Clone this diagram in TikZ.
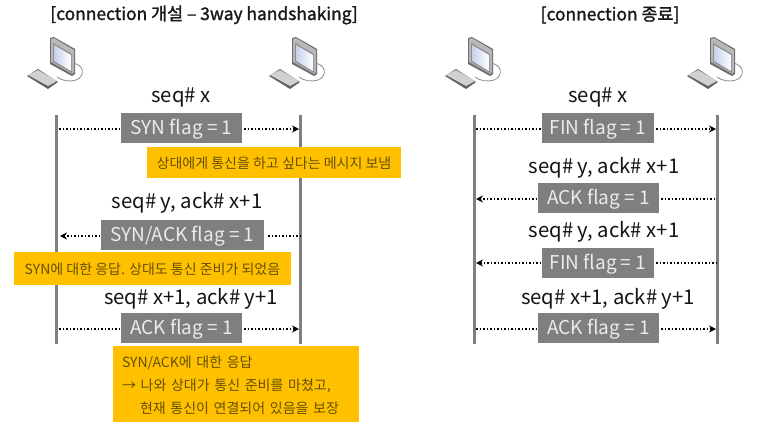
\documentclass[tikz,border=0pt]{standalone}
\usepackage{fontspec}
\setmainfont{Noto Sans CJK KR}
\newfontfamily\titlefont[FakeBold=1.5]{Noto Sans CJK KR}
\usetikzlibrary{arrows.meta}
\definecolor{flaggray}{HTML}{7F7F7F}
\definecolor{noteyellow}{HTML}{FFC000}
\definecolor{notetext}{HTML}{665000}
\definecolor{screenblue}{HTML}{C4D0EC}
\tikzset{
  x=1pt,y=-1pt,
  titletext/.style={font=\titlefont\fontsize{17.4}{18}\selectfont,text=black!90,inner sep=0},
  seqtext/.style={font=\fontsize{20.3}{20}\selectfont,text=black!92,inner sep=0,text height=14pt,text depth=4pt},
  flagbox/.style={fill=flaggray,text=white!92!black,font=\fontsize{19}{20}\selectfont,inner sep=0,minimum height=30pt,anchor=center,text height=14pt,text depth=2pt},
  notebox/.style={fill=noteyellow,text=notetext,font=\fontsize{14}{14}\selectfont,inner sep=0,anchor=center,text height=12pt,text depth=1pt},
  lifeline/.style={draw=flaggray,line width=3pt},
  msg/.style={dotted,line width=1.5pt,black,-{Stealth[length=7pt,width=7pt]}},
  msgplain/.style={dotted,line width=1.5pt,black},
  computer/.pic={
    % base
    \draw[black!45,line width=.8pt] (72,63) .. controls (84,64) and (86,76) .. (76,80) .. controls (70,82) and (62,81) .. (57,77);
    % monitor
    \fill[black!58] (50,38) -- (54,37) -- (75,49) -- (75,74) -- (72,76) -- (50,64) -- cycle;
    \fill[black!28] (51,39) -- (54,38) -- (74,50) -- (74,72) -- (72,74) -- (51,62) -- cycle;
    \fill[black!45] (53,43) -- (72,54) -- (72,73) -- (53,62) -- cycle;
    \shade[left color=screenblue,right color=white] (54,45) -- (71,55) -- (71,71) -- (54,61) -- cycle;
    % keyboard
    \fill[black!62] (27,76) -- (38,69) -- (58,82) -- (48,89) -- cycle;
    \fill[black!18] (28,75) -- (38,70) -- (57,81) -- (48,86) -- cycle;
  }
}
\begin{document}
\begin{tikzpicture}
\useasboundingbox (0,0) rectangle (759,434);
\fill[white] (0,0) rectangle (759,434);

\node[titletext] (titleA) at (204,15) {[connection 개설 – 3way handshaking]};
\node[titletext] (titleB) at (610,15) {[connection 종료]};

\pic at (0,0) {computer};
\pic at (242,0) {computer};
\pic at (418,0) {computer};
\pic at (660,0) {computer};

% lifelines
\coordinate (aT) at (56,115); \coordinate (aB) at (56,344);
\coordinate (bT) at (300,115); \coordinate (bB) at (300,344);
\coordinate (cT) at (474,115); \coordinate (cB) at (474,344);
\coordinate (dT) at (717,115); \coordinate (dB) at (717,344);
\draw[lifeline] (aT) -- (aB);
\draw[lifeline] (bT) -- (bB);
\draw[lifeline] (cT) -- (cB);
\draw[lifeline] (dT) -- (dB);

% left sequence
\node[seqtext] (s1) at (181,97) {seq\# x};
\node[flagbox,minimum width=121pt] (f1) at (181.5,128) {SYN flag = 1};
\node[seqtext] (s2) at (187,203) {seq\# y, ack\# x+1};
\node[flagbox,minimum width=163pt] (f2) at (182.5,235) {SYN/ACK flag = 1};
\node[seqtext] (s3) at (191,299) {seq\# x+1, ack\# y+1};
\node[flagbox,minimum width=121pt] (f3) at (181.5,328) {ACK flag = 1};

\coordinate (a1) at (59,129); \coordinate (b1) at (299,129);
\coordinate (a2) at (60,236); \coordinate (b2) at (300,236);
\coordinate (a3) at (59,329); \coordinate (b3) at (299,329);
\coordinate (f1l) at (119,129); \coordinate (f1r) at (244,129);
\coordinate (f2l) at (100,236); \coordinate (f2r) at (268,236);
\coordinate (f3l) at (119,329); \coordinate (f3r) at (244,329);
\draw[msgplain] (a1) -- (f1l);
\draw[msg] (f1r) -- (b1);
\draw[msg] (f2l) -- (a2);
\draw[msgplain] (f2r) -- (b2);
\draw[msgplain] (a3) -- (f3l);
\draw[msg] (f3r) -- (b3);

% notes
\node[notebox,minimum width=254pt,minimum height=31pt] (n1) at (274,162.5) {상대에게 통신을 하고 싶다는 메시지 보냄};
\node[notebox,minimum width=277pt,minimum height=33pt] (n2) at (152.5,268.5) {SYN에 대한 응답. 상대도 통신 준비가 되었음};
\node[notebox,minimum width=246pt,minimum height=76pt,text width=228pt,align=left,text height=,text depth=,font=\fontsize{14}{23}\selectfont] (n3) at (236,384)
  {\rule{0pt}{15pt}SYN/ACK에 대한 응답\\→ 나와 상대가 통신 준비를 마쳤고,\\\hspace*{18pt}현재 통신이 연결되어 있음을 보장};

% right sequence
\node[seqtext] (s4) at (598,97) {seq\# x};
\node[flagbox,minimum width=112pt] (f4) at (598,128) {FIN flag = 1};
\node[seqtext] (s5) at (604,168) {seq\# y, ack\# x+1};
\node[flagbox,minimum width=121pt] (f5) at (598.5,198) {ACK flag = 1};
\node[seqtext] (s6) at (604,232) {seq\# y, ack\# x+1};
\node[flagbox,minimum width=112pt] (f6) at (598,263) {FIN flag = 1};
\node[seqtext] (s7) at (608,299) {seq\# x+1, ack\# y+1};
\node[flagbox,minimum width=121pt] (f7) at (598.5,328) {ACK flag = 1};

\coordinate (c4) at (476,129); \coordinate (d4) at (716,129);
\coordinate (c5) at (476,199); \coordinate (d5) at (717,199);
\coordinate (c6) at (476,263); \coordinate (d6) at (717,263);
\coordinate (c7) at (476,329); \coordinate (d7) at (716,329);
\coordinate (f4l) at (541,129); \coordinate (f4r) at (656,129);
\coordinate (f5l) at (537,199); \coordinate (f5r) at (661,199);
\coordinate (f6l) at (541,263); \coordinate (f6r) at (656,263);
\coordinate (f7l) at (537,329); \coordinate (f7r) at (661,329);
\draw[msgplain] (c4) -- (f4l);
\draw[msg] (f4r) -- (d4);
\draw[msg] (f5l) -- (c5);
\draw[msgplain] (f5r) -- (d5);
\draw[msg] (f6l) -- (c6);
\draw[msgplain] (f6r) -- (d6);
\draw[msgplain] (c7) -- (f7l);
\draw[msg] (f7r) -- (d7);
\end{tikzpicture}
\end{document}
